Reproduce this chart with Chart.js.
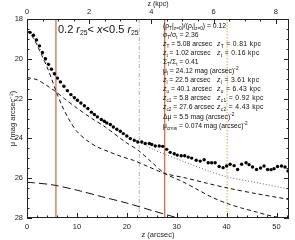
<!DOCTYPE html>
<html>
<head>
<meta charset="utf-8">
<script src="https://cdn.jsdelivr.net/npm/chart.js@4.4.1/dist/chart.umd.min.js"></script>
<style>
	body { margin: 0; background: #fff; }
	#wrap { position: relative; width: 295px; height: 240px; }
	#chart { position: absolute; left: 0; top: 0; }
	.note {
		position: absolute;
		font-family: "Liberation Sans", Arial, sans-serif;
		font-size: 6.8px;
		line-height: 9px;
		color: #111;
		white-space: nowrap;
	}
	.note.kpc { letter-spacing: 0.35px; }
	.note sub { font-size: 70%; vertical-align: -0.35em; line-height: 0; }
	.note sup { font-size: 70%; vertical-align: 0.55em; line-height: 0; }
	#range {
		position: absolute;
		left: 58px;
		top: 22px;
		font-family: "Liberation Sans", Arial, sans-serif;
		font-size: 11px;
		line-height: 14px;
		color: #111;
		white-space: nowrap;
	}
	#range sub { font-size: 62%; vertical-align: -0.35em; line-height: 0; }
</style>
</head>
<body>
<div id="wrap">
	<canvas id="chart" width="295" height="240"></canvas>
	<div id="range">0.2 <i>r</i><sub>25</sub>&lt; <i>x</i>&lt;0.5 <i>r</i><sub>25</sub></div>
	<div id="notes"></div>
</div>
<script>
// observed vertical profile (arcsec, mag arcsec^-2)
const obsZ = [0.6, 1.3, 1.9, 2.5, 3.1, 3.7, 4.3, 4.9, 5.5, 6.1, 6.7, 7.4, 8.1, 8.8, 9.5, 10.1, 10.8, 11.5, 12.2,
	12.9, 13.5, 14.1, 14.9, 15.5, 16.0, 16.7, 17.3, 18.0, 18.7, 19.3, 20.0, 20.7, 21.5, 22.2, 23.0, 23.7, 24.5,
	25.0, 25.7, 26.5, 27.2, 28.0, 28.7, 29.5, 30.1, 30.9, 31.6, 32.3, 33.0, 33.9, 34.7, 35.5, 36.3, 37.0, 37.7,
	38.5, 39.3, 40.0, 40.7, 41.5, 42.2, 43.0, 43.9, 44.5, 45.2, 46.0, 46.8, 47.5, 48.2, 48.9, 49.5, 50.2, 51.0,
	51.7, 52.3];
const obsMu = [18.67, 18.82, 19.05, 19.35, 19.68, 20.0, 20.28, 20.52, 20.75, 20.97, 21.16, 21.38, 21.6, 21.8, 21.96, 22.08, 22.22, 22.36, 22.5,
	22.68, 22.8, 22.92, 23.05, 23.14, 23.22, 23.3, 23.43, 23.54, 23.64, 23.76, 23.88, 24.01, 24.1, 24.18, 24.18, 24.26, 24.26,
	24.31, 24.38, 24.38, 24.4, 24.55, 24.7, 24.77, 24.84, 24.87, 24.87, 24.94, 24.99, 25.1, 25.14, 25.07, 25.22, 25.22, 25.22,
	25.41, 25.47, 25.39, 25.3, 25.37, 25.56, 25.3, 25.22, 25.32, 25.44, 25.56, 25.49, 25.39, 25.56, 25.57, 25.52, 25.41, 25.39,
	25.44, 25.64];

// fitted components
const diskAZ = [0, 1, 2, 3, 4, 5, 5.8, 7, 8.3, 10, 12, 14, 16.7, 19, 21.3, 24.3, 27.6, 32, 36, 40.3, 46, 52.5];
const diskAMu = [18.55, 18.85, 19.3, 19.85, 20.4, 21.05, 21.62, 22.35, 23.0, 23.65, 24.1, 24.42, 24.7, 24.92, 25.1, 25.42, 25.76, 26.0, 26.25, 26.5, 26.78, 27.07];

const diskBZ = [0, 2, 4, 5.8, 7.5, 9.7, 13, 15.7, 19.7, 22.3, 25, 27.6, 31, 34, 37, 40.1, 43, 46, 49, 52.5];
const diskBMu = [20.94, 21.05, 21.35, 21.66, 22.0, 22.42, 23.0, 23.43, 24.18, 24.6, 25.2, 25.76, 26.15, 26.55, 26.95, 27.27, 27.5, 27.7, 27.9, 28.05];

const haloZ = [0, 5, 10, 15, 20, 25, 30, 32];
const haloMu = [26.2, 26.33, 26.6, 26.93, 27.25, 27.62, 27.98, 28.1];

const modelZ = [0, 1, 2, 3, 4, 5, 6, 8, 10, 12, 14, 16, 18, 20, 22.7, 25.3, 28, 32, 36.7, 40, 46, 52.5];
const modelMu = [18.5, 18.8, 19.22, 19.7, 20.18, 20.6, 20.95, 21.6, 22.1, 22.52, 22.9, 23.25, 23.58, 23.87, 24.2, 24.55, 24.83, 25.22, 25.67, 25.93, 26.22, 26.55];

// marker heights (arcsec)
const zCross = [5.8, 27.6];
const zLow = 22.5;
const zUp = 40.1;

const zMax = 52.5;
const arcsecPerKpc = 6.23;
const muMin = 18;
const muMax = 28;

// text block on the right
const noteRows = [
	['(ρ<sub>T</sub>|<sub>z=0</sub>)/(ρ<sub>t</sub>|<sub>z=0</sub>) = 0.12', ''],
	['σ<sub>T</sub>/σ<sub>t</sub> = 2.36', ''],
	['<i>z</i><sub>T</sub> = 5.08 arcsec', '<i>z</i><sub>T</sub> = 0.81 kpc'],
	['<i>z</i><sub>t</sub> = 1.02 arcsec', '<i>z</i><sub>t</sub> = 0.16 kpc'],
	['Σ<sub>T</sub>/Σ<sub>t</sub> = 0.41', ''],
	['μ<sub>l</sub> = 24.12 mag (arcsec)<sup>-2</sup>', ''],
	['<i>z</i><sub>l</sub> = 22.5 arcsec', '<i>z</i><sub>l</sub> = 3.61 kpc'],
	['<i>z</i><sub>u</sub> = 40.1 arcsec', '<i>z</i><sub>u</sub> = 6.43 kpc'],
	['<i>z</i><sub>c1</sub> = 5.8 arcsec', '<i>z</i><sub>c1</sub> = 0.92 kpc'],
	['<i>z</i><sub>c2</sub> = 27.6 arcsec', '<i>z</i><sub>c2</sub> = 4.43 kpc'],
	['Δμ = 5.5 mag (arcsec)<sup>-2</sup>', ''],
	['μ<sub>crms</sub> = 0.074 mag (arcsec)<sup>-2</sup>', '']
];

const notes = document.getElementById('notes');
noteRows.forEach((row, i) => {
	const y = 25 + i * 9.1 - 4.5;
	const left = document.createElement('div');
	left.className = 'note';
	left.style.left = '163px';
	left.style.top = `${y}px`;
	left.innerHTML = row[0];
	notes.appendChild(left);
	if (row[1]) {
		const right = document.createElement('div');
		right.className = 'note kpc';
		right.style.left = '217px';
		right.style.top = `${y}px`;
		right.innerHTML = row[1];
		notes.appendChild(right);
	}
});

function pairs(xs, ys) {
	return xs.map((x, i) => ({ x, y: ys[i] }));
}

function vline(z) {
	return [{ x: z, y: muMin }, { x: z, y: muMax }];
}

const family = '"Liberation Sans", Arial, sans-serif';
const tickFont = { family, size: 7.5 };

// inward ticks and the frame, IDL style
const frameTicks = {
	id: 'frameTicks',
	afterDatasetsDraw(chart) {
		const { ctx, chartArea: a, scales } = chart;
		ctx.save();
		ctx.strokeStyle = '#222';
		ctx.lineWidth = 1;
		ctx.beginPath();
		for (let v = 0; v <= zMax; v += 2) {
			const px = Math.round(scales.x.getPixelForValue(v)) + 0.5;
			const len = v % 10 === 0 ? 5 : 2.5;
			ctx.moveTo(px, a.bottom);
			ctx.lineTo(px, a.bottom - len);
		}
		for (let k = 0; k <= zMax / arcsecPerKpc; k += 0.5) {
			const px = Math.round(scales.xk.getPixelForValue(k)) + 0.5;
			const len = k % 2 === 0 ? 5 : 2.5;
			ctx.moveTo(px, a.top);
			ctx.lineTo(px, a.top + len);
		}
		for (let v = muMin; v <= muMax; v += 0.5) {
			const py = Math.round(scales.y.getPixelForValue(v)) + 0.5;
			const len = v % 2 === 0 ? 5 : 2.5;
			ctx.moveTo(a.left, py);
			ctx.lineTo(a.left + len, py);
			ctx.moveTo(a.right, py);
			ctx.lineTo(a.right - len, py);
		}
		ctx.stroke();
		ctx.strokeRect(Math.round(a.left) + 0.5, Math.round(a.top) + 0.5,
			Math.round(a.right - a.left) - 1, Math.round(a.bottom - a.top) - 1);
		ctx.restore();
	}
};

const lineBase = { showLine: true, pointRadius: 0, fill: false, tension: 0.3 };

new Chart(document.getElementById('chart'), {
	type: 'scatter',
	data: {
		datasets: [
			{
				label: 'observed',
				data: pairs(obsZ, obsMu),
				pointRadius: 1.7,
				pointBackgroundColor: '#000',
				pointBorderWidth: 0,
				showLine: false
			},
			{ ...lineBase, label: 'model', data: pairs(modelZ, modelMu), borderColor: '#666', borderWidth: 1, borderDash: [1, 2] },
			{ ...lineBase, label: 'diskA', data: pairs(diskAZ, diskAMu), borderColor: '#111', borderWidth: 1, borderDash: [4, 3] },
			{ ...lineBase, label: 'diskB', data: pairs(diskBZ, diskBMu), borderColor: '#111', borderWidth: 1, borderDash: [4, 3] },
			{ ...lineBase, label: 'halo', data: pairs(haloZ, haloMu), borderColor: '#111', borderWidth: 1, borderDash: [8, 4] },
			{ ...lineBase, tension: 0, label: 'zc1', data: vline(zCross[0]), borderColor: '#d9512c', borderWidth: 1.1 },
			{ ...lineBase, tension: 0, label: 'zc2', data: vline(zCross[1]), borderColor: '#d9512c', borderWidth: 1.1 },
			{ ...lineBase, tension: 0, label: 'zl', data: vline(zLow), borderColor: '#b5b5b5', borderWidth: 1, borderDash: [4, 2, 1, 2] },
			{ ...lineBase, tension: 0, label: 'zu', data: vline(zUp), borderColor: '#f2a03a', borderWidth: 1, borderDash: [1.5, 1.5] }
		]
	},
	options: {
		responsive: false,
		animation: false,
		devicePixelRatio: 1,
		layout: { padding: { left: 0, right: 6, top: 0, bottom: 0 } },
		plugins: { legend: { display: false }, tooltip: { enabled: false } },
		scales: {
			x: {
				type: 'linear',
				position: 'bottom',
				min: 0,
				max: zMax,
				grid: { display: false, drawTicks: false },
				border: { display: false },
				ticks: { stepSize: 10, includeBounds: false, padding: 4, font: tickFont, color: '#222', maxRotation: 0 },
				title: { display: true, text: 'z (arcsec)', font: { family, size: 7.5 }, color: '#222', padding: { top: 0, bottom: 1 } },
				afterFit(scale) { scale.height = 22; }
			},
			xk: {
				type: 'linear',
				position: 'top',
				min: 0,
				max: zMax / arcsecPerKpc,
				grid: { display: false, drawTicks: false },
				border: { display: false },
				ticks: { stepSize: 2, includeBounds: false, padding: 3, font: tickFont, color: '#222', maxRotation: 0 },
				title: { display: true, text: 'z (kpc)', font: { family, size: 7 }, color: '#222', padding: { top: 0, bottom: 0 } },
				afterFit(scale) { scale.height = 19; }
			},
			y: {
				type: 'linear',
				position: 'left',
				reverse: true,
				min: muMin,
				max: muMax,
				grid: { display: false, drawTicks: false },
				border: { display: false },
				ticks: { stepSize: 2, includeBounds: false, padding: 4, font: tickFont, color: '#222' },
				title: { display: true, text: 'μ (mag arcsec⁻²)', font: { family, size: 7.5 }, color: '#222', padding: { top: 8, bottom: 0 } },
				afterFit(scale) { scale.width = 27; }
			}
		}
	},
	plugins: [frameTicks]
});
</script>
</body>
</html>
